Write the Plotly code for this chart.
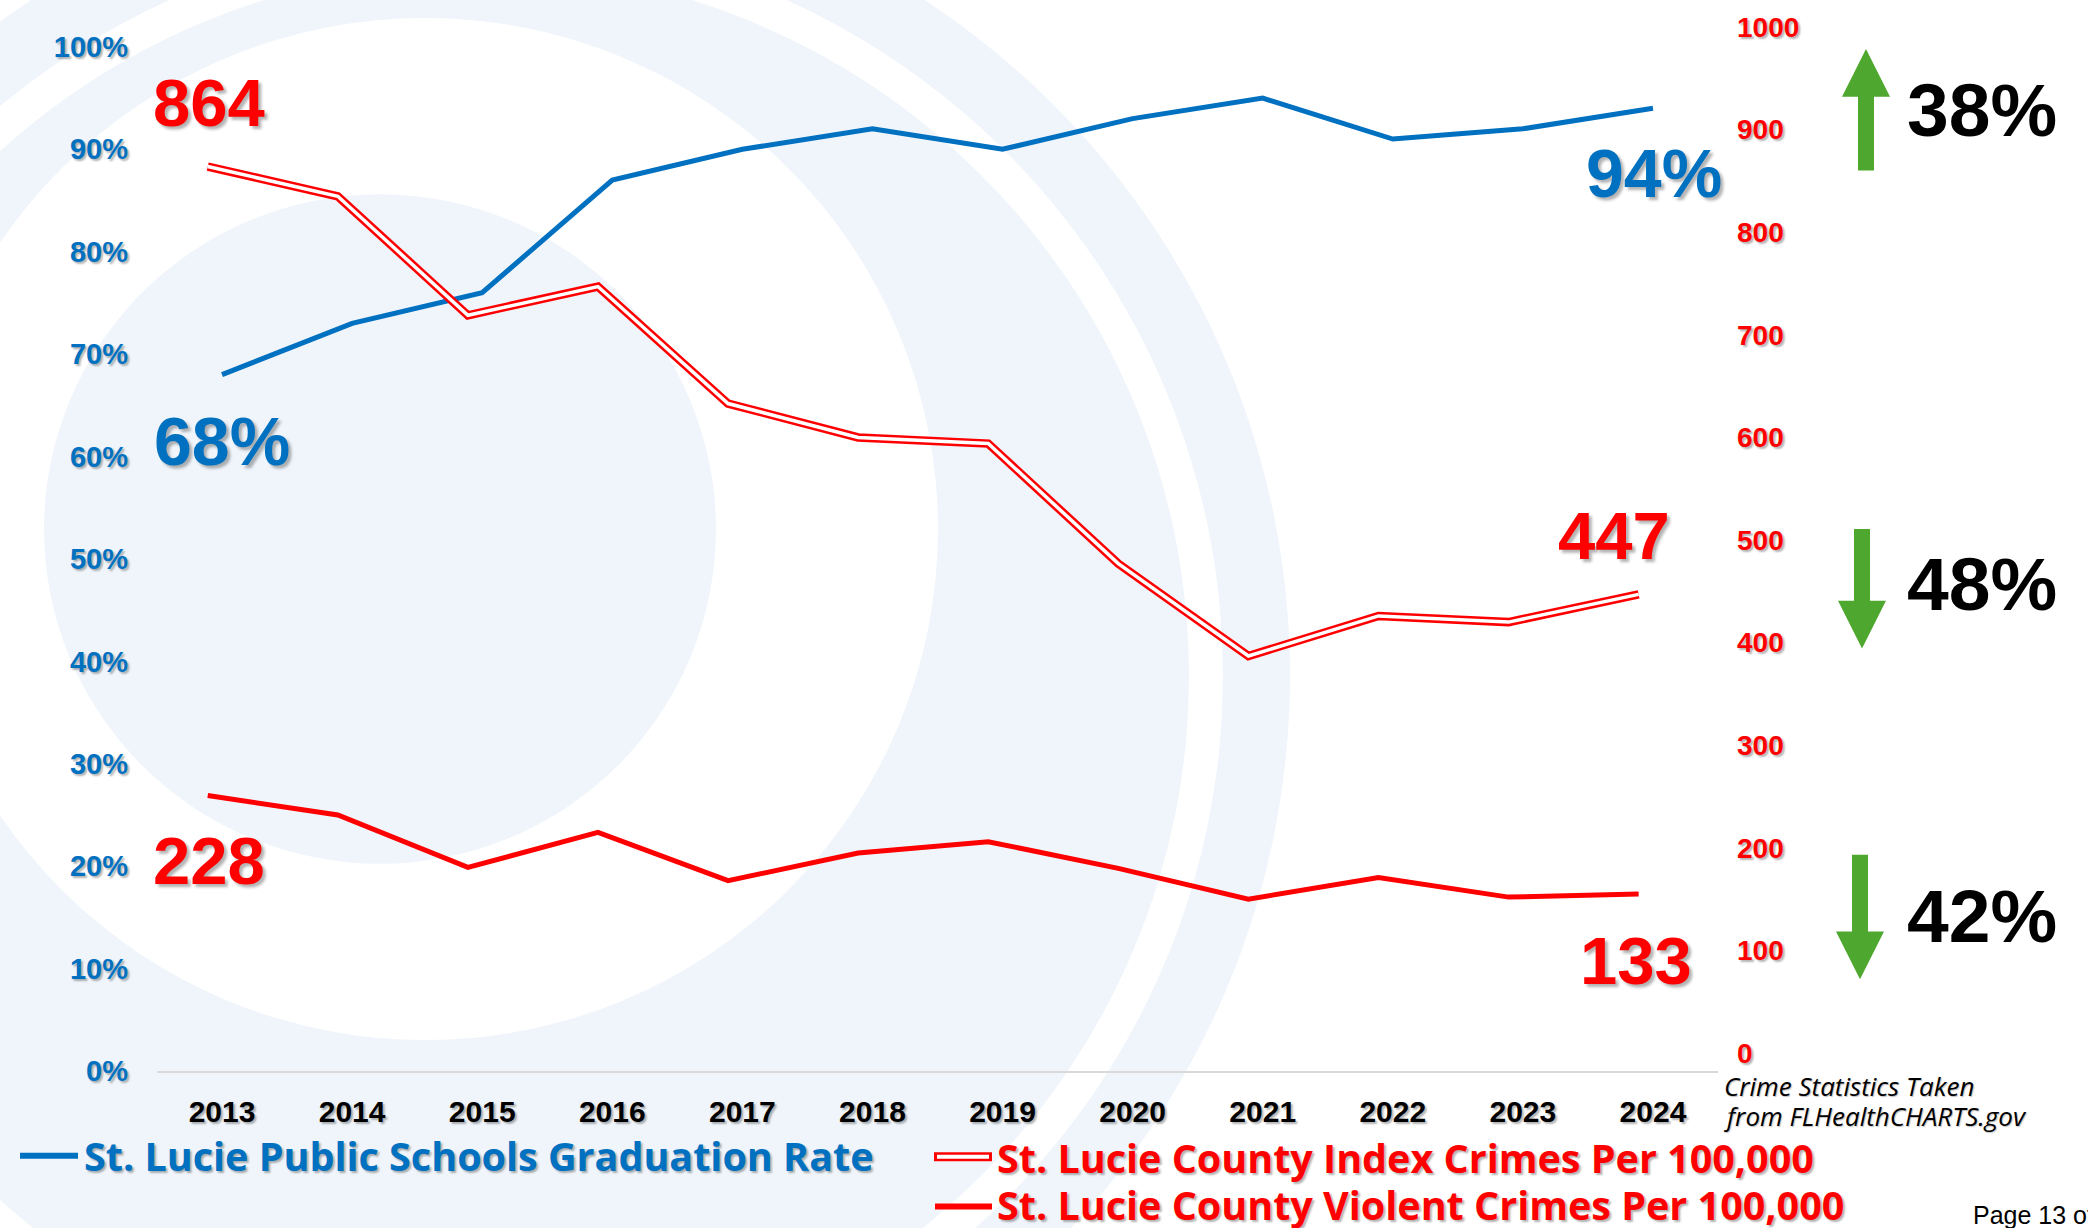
import plotly.graph_objects as go

# ---------------- data ----------------
years = ["2013", "2014", "2015", "2016", "2017", "2018", "2019", "2020", "2021", "2022", "2023", "2024"]
grad_rate = [68, 73, 76, 87, 90, 92, 90, 93, 95, 91, 92, 94]
index_crimes = [864, 835, 719, 747, 633, 600, 594, 477, 387, 426, 420, 447]
violent_crimes = [251, 232, 181, 215, 168, 195, 206, 180, 150, 171, 152, 155]

pct_ticks = [0, 10, 20, 30, 40, 50, 60, 70, 80, 90, 100]
pct_labels = [f"{v}%" for v in pct_ticks]
crime_ticks = [0, 100, 200, 300, 400, 500, 600, 700, 800, 900, 1000]
crime_labels = [str(v) for v in crime_ticks]

legend_names = ["St. Lucie Public Schools Graduation Rate",
                "St. Lucie County Index Crimes Per 100,000",
                "St. Lucie County Violent Crimes Per 100,000"]

# ---------------- layout geometry ----------------
W, H = 2088, 1228
L, R, T, B = 157, 1718, 15, 1071

BLUE = "#0070C0"
RED = "#FF0000"
GREEN = "#4EA72E"
LIGHT = "#EFF5FB"
ARIAL = "Liberation Sans, Arial, sans-serif"
LEG = "Open Sans, Noto Sans, sans-serif"


def px(x):
    return (x - L) / (R - L)


def py(y):
    return (B - y) / (B - T)


SH_BIG = "3px 3px 3px rgba(0,0,0,0.30)"
SH_SM = "2px 2px 2px rgba(0,0,0,0.30)"

fig = go.Figure()

fig.add_trace(go.Scatter(x=years, y=grad_rate, mode="lines",
                         line=dict(color=BLUE, width=5), xaxis="x", yaxis="y",
                         showlegend=False, hoverinfo="skip"))
# index crimes: double line (red wide + white core)
fig.add_trace(go.Scatter(x=years, y=index_crimes, mode="lines",
                         line=dict(color=RED, width=8.5), xaxis="x2", yaxis="y2",
                         showlegend=False, hoverinfo="skip"))
fig.add_trace(go.Scatter(x=years, y=index_crimes, mode="lines",
                         line=dict(color="white", width=3.5), xaxis="x2", yaxis="y2",
                         showlegend=False, hoverinfo="skip"))
fig.add_trace(go.Scatter(x=years, y=violent_crimes, mode="lines",
                         line=dict(color=RED, width=5), xaxis="x2", yaxis="y2",
                         showlegend=False, hoverinfo="skip"))

shapes = []


def circle(cx, cy, r, color):
    shapes.append(dict(type="circle", xref="paper", yref="paper", layer="below",
                       x0=px(cx - r), x1=px(cx + r), y0=py(cy + r), y1=py(cy - r),
                       fillcolor=color, line=dict(width=0)))


# background rings
circle(478, 674, 812, LIGHT)
circle(478, 674, 745, "white")
circle(478, 674, 711, LIGHT)
circle(425, 527, 513, "white")
circle(380, 527, 336, LIGHT)


def poly(points, color):
    d = "M " + " L ".join(f"{px(x):.5f},{py(y):.5f}" for x, y in points) + " Z"
    shapes.append(dict(type="path", xref="paper", yref="paper", path=d,
                       fillcolor=color, line=dict(width=0), layer="above"))


def up_arrow(cx, tip, base, bottom):
    poly([(cx - 8, bottom), (cx - 8, base), (cx - 24, base), (cx, tip),
          (cx + 24, base), (cx + 8, base), (cx + 8, bottom)], GREEN)


def down_arrow(cx, top, base, tip):
    poly([(cx - 8, top), (cx - 8, base), (cx - 24, base), (cx, tip),
          (cx + 24, base), (cx + 8, base), (cx + 8, top)], GREEN)


up_arrow(1866, 45, 93, 167)
down_arrow(1862, 527, 599, 647)
down_arrow(1860, 854, 931, 979)


def hline(x0, x1, y, color, width):
    shapes.append(dict(type="line", xref="paper", yref="paper",
                       x0=px(x0), x1=px(x1), y0=py(y), y1=py(y),
                       line=dict(color=color, width=width), layer="above"))


# legend symbols
hline(20, 78, 1156, BLUE, 6)
hline(934, 992, 1157, RED, 9)
hline(937, 989, 1157, "white", 4)
hline(935, 992, 1207, RED, 6)

annotations = []


def text(x, y, s, size, color, family=ARIAL, bold=True, italic=False,
         xanchor="center", shadow=SH_BIG):
    annotations.append(dict(x=px(x), y=py(y), xref="paper", yref="paper",
                            text=s, showarrow=False, xanchor=xanchor, yanchor="middle",
                            font=dict(family=family, size=size, color=color,
                                      weight="bold" if bold else "normal",
                                      style="italic" if italic else "normal",
                                      shadow=shadow)))


# data labels
text(209, 99, str(index_crimes[0]), 67, RED)
text(222, 439, f"{grad_rate[0]}%", 68, BLUE)
text(1654, 170, f"{grad_rate[-1]}%", 68, BLUE)
text(1614, 533, str(index_crimes[-1]), 67, RED)
text(209, 860, "228", 67, RED)
text(1636, 960, "133", 67, RED)

# change percentages
text(1982, 106, "38%", 75, "black", shadow="none")
text(1982, 582, "48%", 75, "black", shadow="none")
text(1982, 915, "42%", 75, "black", shadow="none")

# legend texts
text(82, 1156, legend_names[0], 39.5, BLUE, family=LEG, xanchor="left", shadow=SH_SM)
text(995, 1158, legend_names[1], 39.5, RED, family=LEG, xanchor="left", shadow=SH_SM)
text(995, 1206, legend_names[2], 39.5, RED, family=LEG, xanchor="left", shadow=SH_SM)

# source note + page
text(1722, 1086, "Crime Statistics Taken", 26, "black", family="Open Sans, sans-serif",
     bold=False, italic=True, xanchor="left", shadow="1px 1px 1px rgba(0,0,0,0.25)")
text(1722, 1116, "from FLHealthCHARTS.gov", 26, "black", family="Open Sans, sans-serif",
     bold=False, italic=True, xanchor="left", shadow="1px 1px 1px rgba(0,0,0,0.25)")
text(1971, 1216, "Page 13 of", 25, "black", bold=False, xanchor="left", shadow="none")

left_top = (B - T) / 102.8 * 10
right_bottom = -(B - 1053) / 103.0 * 100
right_top = (1053 - T) / 103.0 * 100

fig.update_layout(
    width=W, height=H,
    margin=dict(l=L, r=W - R, t=T, b=H - B, pad=0),
    paper_bgcolor="white", plot_bgcolor="rgba(0,0,0,0)",
    showlegend=False,
    shapes=shapes, annotations=annotations,
    xaxis=dict(type="category", categoryorder="array", categoryarray=years,
               range=[-0.5, 11.5], showgrid=False, zeroline=False,
               showline=True, linecolor="#D9D9D9", linewidth=2, ticks="",
               tickfont=dict(family=ARIAL, size=30, color="black", weight="bold", shadow=SH_SM),
               ticklabelstandoff=13),
    xaxis2=dict(type="category", categoryorder="array", categoryarray=years,
                overlaying="x", anchor="y2", range=[-0.5 + 0.11, 11.5 + 0.11],
                visible=False),
    yaxis=dict(range=[0, left_top], tickvals=pct_ticks, ticktext=pct_labels,
               showgrid=False, zeroline=False, showline=False, ticks="",
               tickfont=dict(family=ARIAL, size=29, color=BLUE, weight="bold", shadow=SH_SM),
               ticklabelstandoff=28),
    yaxis2=dict(range=[right_bottom, right_top], tickvals=crime_ticks, ticktext=crime_labels,
                overlaying="y", side="right", anchor="x",
                showgrid=False, zeroline=False, showline=False, ticks="",
                tickfont=dict(family=ARIAL, size=28, color=RED, weight="bold", shadow=SH_SM),
                ticklabelstandoff=18),
)

fig.write_html("out.html",
               config={"displayModeBar": False, "staticPlot": True},
               post_script="document.body.style.margin='0px';document.body.style.padding='0px';"
                           "document.body.style.overflow='hidden';")
